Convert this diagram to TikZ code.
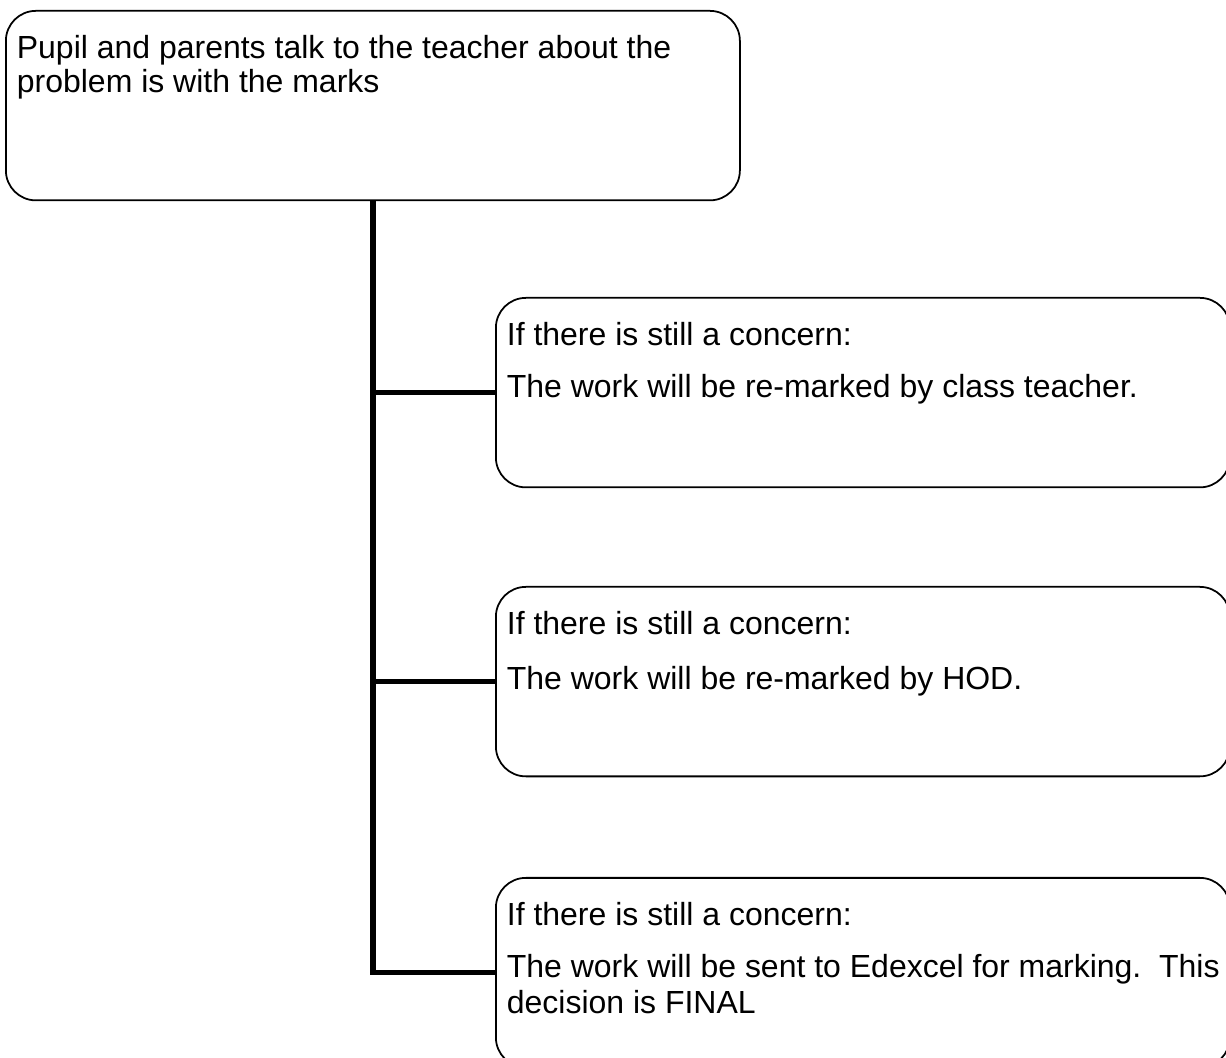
\documentclass[tikz,border=0pt]{standalone}
\usepackage{fontspec}
\setmainfont{Liberation Sans}
\newcommand{\boxbody}[1]{\parbox[t][2.81cm][t]{14.24cm}{\raggedright\setlength{\parskip}{10pt}#1}}
\begin{document}
\begin{tikzpicture}[
  box/.style={draw, rounded corners=0.6cm, line width=1pt, anchor=north west, inner xsep=0.22cm, inner ysep=0.49cm, font=\fontsize{18.2}{19.5}\selectfont},
  trunk/.style={line width=3pt}
]
\clip (0,0) rectangle (24.52,21.14);
% Start
\node[box] (talk) at (0.10,20.94) {\boxbody{Pupil and parents talk to the teacher about the\\problem is with the marks}};

% Steps
\node[box] (teacher) at (9.90,15.20) {\boxbody{If there is still a concern:\par The work will be re-marked by class teacher.}};
\node[box] (hod) at (9.90,9.42) {\boxbody{If there is still a concern:\par\vspace{2pt}The work will be re-marked by HOD.}};
\node[box] (edexcel) at (9.90,3.60) {\boxbody{If there is still a concern:\par \mbox{The work will be sent to Edexcel for marking.\ \ This}\\[1pt]decision is FINAL}};

% Lines
\draw[trunk] (talk.south) |- (edexcel.west);
\draw[trunk] (talk.south |- teacher.west) -- (teacher.west);
\draw[trunk] (talk.south |- hod.west) -- (hod.west);
\end{tikzpicture}
\end{document}
